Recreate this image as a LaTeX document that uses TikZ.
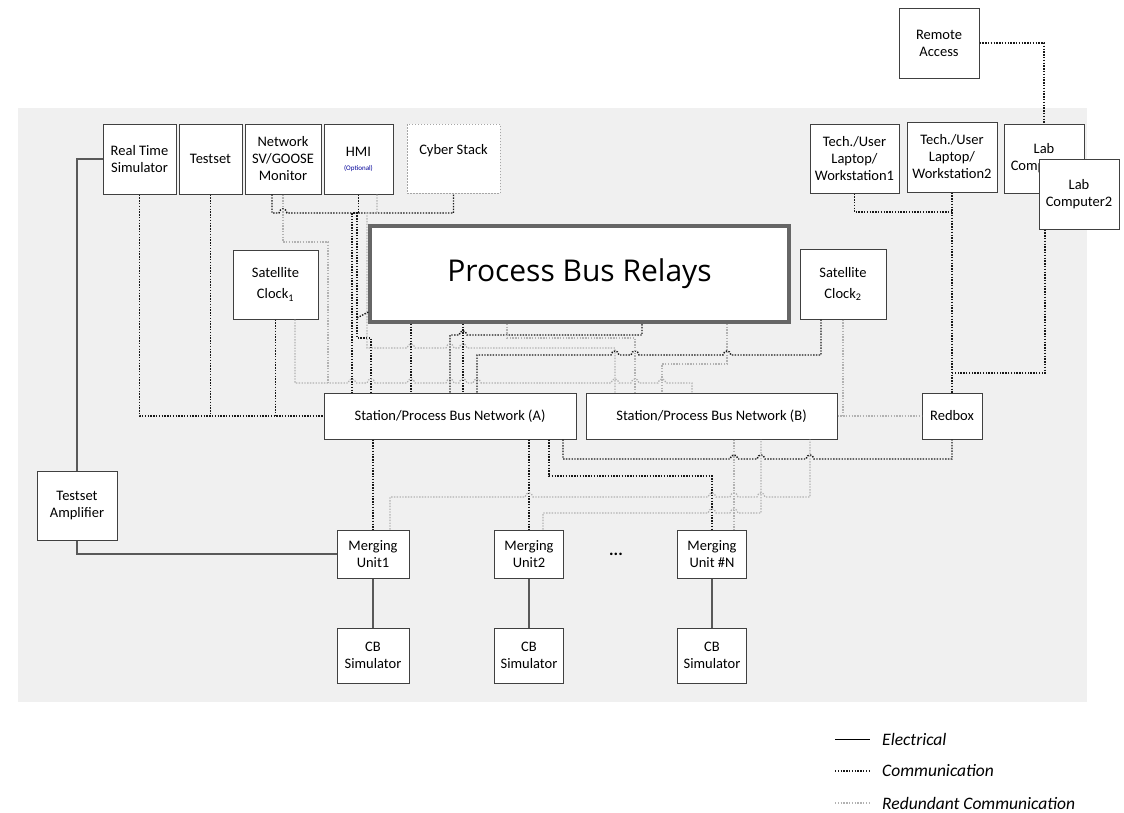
\documentclass[tikz,border=0pt]{standalone}
\usepackage{fontspec}
\setmainfont{Carlito}
\newfontfamily\relayfont{Open Sans}
\usepackage{tikz}

\tikzset{
  box/.style={draw=black!75, line width=1pt, fill=white, align=center, inner sep=2pt,
    font=\fontsize{14.5}{17}\selectfont},
  elec/.style={draw=black!65, line width=1.3pt},
  comm/.style={draw=black!90, line width=1.4pt, dash pattern=on 1.4pt off 1.4pt},
  redun/.style={draw=black!30, line width=1.2pt, dash pattern=on 1.4pt off 1.4pt},
  legtext/.style={anchor=west, inner sep=0pt, font=\fontsize{17.5}{19}\selectfont\itshape},
}

\begin{document}
\begin{tikzpicture}[x=1pt, y=-1pt]
  \useasboundingbox (0,0) rectangle (1124,812);
  \fill[black!6] (18,108) rectangle (1087,702);

  \node[box, minimum width=73, minimum height=70] (rts) at (139.5,159) {Real Time\\Simulator};
  \node[box, minimum width=63, minimum height=70] (testset) at (210.5,159) {Testset};
  \node[box, minimum width=76, minimum height=70] (netmon) at (283,159) {Network\\SV/GOOSE\\Monitor};
  \node[box, minimum width=69, minimum height=70] (hmi) at (358.5,159)
    {HMI\\[-3pt]{\fontsize{7}{8}\selectfont\color{blue!60!black}(Optional)}};
  \node[box, draw=black!35, dash pattern=on 1.5pt off 1.5pt, minimum width=93, minimum height=69,
    text depth=18pt] (cyber) at (453.5,158.5) {Cyber Stack};
  \node[box, draw=black!60, line width=3.5pt, minimum width=419, minimum height=96,
    font=\relayfont\fontsize{30}{34}\selectfont] (pbr) at (579.5,274) {Process Bus Relays};
  \node[box, minimum width=85, minimum height=69] (sat1) at (275.5,284.5) {Satellite\\[4pt]Clock\textsubscript{1}};
  \node[box, minimum width=86, minimum height=70] (sat2) at (843,284) {Satellite\\[4pt]Clock\textsubscript{2}};
  \node[box, minimum width=89, minimum height=69] (ws1) at (854.5,158.5) {Tech./User\\Laptop/\\Workstation1};
  \node[box, minimum width=90, minimum height=70] (ws2) at (952,157) {Tech./User\\Laptop/\\Workstation2};
  \node[box, minimum width=80, minimum height=69] (lab1) at (1044,158.5) {Lab\\Computer1};
  \node[box, minimum width=80, minimum height=70] (lab2) at (1079,194) {Lab\\Computer2};
  \node[box, minimum width=80, minimum height=70] (remote) at (939,43) {Remote\\Access};

  \node[box, minimum width=252, minimum height=46] (neta) at (450,416) {Station/Process Bus Network (A)};
  \node[box, minimum width=251, minimum height=46] (netb) at (711.5,416) {Station/Process Bus Network (B)};
  \node[box, minimum width=60, minimum height=46] (redbox) at (952,416) {Redbox};
  \node[box, minimum width=80, minimum height=69] (tamp) at (77,505.5) {Testset\\Amplifier};

  \node[box, minimum width=72, minimum height=48] (mu1) at (373,554) {Merging\\Unit1};
  \node[box, minimum width=69, minimum height=48] (mu2) at (529,554) {Merging\\Unit2};
  \node[box, minimum width=69, minimum height=48] (mun) at (712,554) {Merging\\Unit \#N};
  \node[font=\fontsize{17}{18}\selectfont\bfseries] (dots) at (616,554) {...};
  \node[box, minimum width=72, minimum height=55] (cb1) at (373,655.5) {CB\\Simulator};
  \node[box, minimum width=69, minimum height=55] (cb2) at (529,655.5) {CB\\Simulator};
  \node[box, minimum width=69, minimum height=55] (cbn) at (712,655.5) {CB\\Simulator};

  \coordinate (monjoin) at (328,383);
  \coordinate (diagend) at (357,318);

  % electrical
  \draw[elec] (rts.west) -| (tamp.north);
  \draw[elec] (tamp.south) |- (mu1.west);
  \draw[elec] (mu1.south) -- (cb1.north);
  \draw[elec] (mu2.south) -- (cb2.north);
  \draw[elec] (mun.south) -- (cbn.north);

  % communication
  \draw[comm] (rts.south) |- (neta.west);
  \draw[comm] (testset.south) -- (testset.south |- neta.west);
  \draw[comm] (sat1.south) -- (sat1.south |- neta.west);
  \draw[comm] (netmon.south -| 272,0) -- (272,213)
    \foreach \h in {283}{ -- (\h-4,213) .. controls (\h-3,207.5) and (\h+3,207.5) .. (\h+4,213) }
    -| (cyber.south);
  \draw[comm] (hmi.south) |- (352,213) -- (neta.north -| 352,0);
  \draw[comm] (hmi.south) |- (357,213) -- (357,338) -| (neta.north -| 371,0);
  \draw[comm] (pbr.west |- 0,312) -- (diagend);
  \draw[comm] (pbr.south -| 411,0) -- (neta.north -| 411,0);
  \draw[comm] (pbr.south -| 463,0) -- (neta.north -| 463,0);
  \draw[comm] (neta.north -| 450,0) -- (450,335)
    \foreach \h in {463}{ -- (\h-4,335) .. controls (\h-3,329.5) and (\h+3,329.5) .. (\h+4,335) }
    -| (pbr.south -| 642,0);
  \draw[comm] (neta.north -| 477,0) -- (477,355)
    \foreach \h in {615,635,727}{ -- (\h-4,355) .. controls (\h-3,349.5) and (\h+3,349.5) .. (\h+4,355) }
    -| (sat2.south -| 821,0);
  \draw[comm] (ws1.south) |- (ws2.south |- 0,212);
  \draw[comm] (ws2.south) -- (redbox.north);
  \draw[comm] (lab2.south -| 1045,0) |- (redbox.north |- 0,373);
  \draw[comm] (remote.east) -| (lab1.north);
  \draw[comm] (neta.south -| 563,0) -- (563,459)
    \foreach \h in {734,761,810}{ -- (\h-4,459) .. controls (\h-3,453.5) and (\h+3,453.5) .. (\h+4,459) }
    -| (redbox.south);
  \draw[comm] (neta.south -| 549,0) -- (549,476) -| (mun.north);
  \draw[comm] (neta.south -| 529,0) -- (mu2.north);
  \draw[comm] (neta.south -| 373,0) -- (mu1.north);

  % redundant communication
  \draw[redun] (sat1.south -| 295,0) -- (295,383)
    \foreach \h in {352,371,411,450,463,477,615,635,662}{ -- (\h-4,383) .. controls (\h-3,377.5) and (\h+3,377.5) .. (\h+4,383) }
    -| (netb.north -| 692,0);
  \draw[redun] (netmon.south) |- (328,242) -- (monjoin);
  \draw[redun] (hmi.south -| 377,0) |- (367,213) -- (367,348)
    \foreach \h in {411,450,463}{ -- (\h-4,348) .. controls (\h-3,342.5) and (\h+3,342.5) .. (\h+4,348) }
    -| (netb.north -| 615,0);
  \draw[redun] (pbr.south -| 507,0) |- (635,338) -- (netb.north -| 635,0);
  \draw[redun] (pbr.south -| 727,0) |- (662,364) -- (netb.north -| 662,0);
  \draw[redun] (netb.east) -- (redbox.west);
  \draw[redun] (sat2.south) -- (sat2.south |- netb.east);
  \draw[redun] (mu1.north -| 390,0) -- (390,497)
    \foreach \h in {529,712,734,761}{ -- (\h-4,497) .. controls (\h-3,491.5) and (\h+3,491.5) .. (\h+4,497) }
    -| (netb.south -| 810,0);
  \draw[redun] (mu2.north -| 543,0) -- (543,513)
    \foreach \h in {712,734}{ -- (\h-4,513) .. controls (\h-3,507.5) and (\h+3,507.5) .. (\h+4,513) }
    -| (netb.south -| 761,0);
  \draw[redun] (netb.south -| 734,0) -- (mun.north -| 734,0);

  % legend
  \node[legtext] (legelec) at (882,739) {Electrical};
  \node[legtext] (legcomm) at (882,771) {Communication};
  \node[legtext] (legred) at (882,803) {Redundant Communication};
  \draw[elec, draw=black, line width=1pt] ([xshift=-47pt]legelec.west) -- ([xshift=-12pt]legelec.west);
  \draw[comm] ([xshift=-47pt]legcomm.west) -- ([xshift=-12pt]legcomm.west);
  \draw[redun] ([xshift=-47pt]legred.west) -- ([xshift=-12pt]legred.west);
\end{tikzpicture}
\end{document}
